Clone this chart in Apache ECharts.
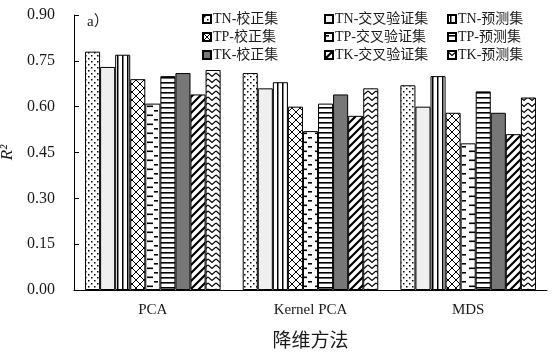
<!DOCTYPE html>
<html><head><meta charset="utf-8">
<script src="https://cdn.jsdelivr.net/npm/echarts@6/dist/echarts.min.js"></script>
<style>html,body{margin:0;padding:0;background:#fff}#c{width:553px;height:356px}</style>
</head><body><div id="c"></div>
<script>
const categories = ['PCA', 'Kernel PCA', 'MDS'];
const yTicks = ['0.00','0.15','0.30','0.45','0.60','0.75','0.90'];
const seriesNames = ['TN-校正集','TN-交叉验证集','TN-预测集','TP-校正集','TP-交叉验证集','TP-预测集','TK-校正集','TK-交叉验证集','TK-预测集'];
const tnCal  = [0.78, 0.71, 0.67];
const tnCv   = [0.73, 0.66, 0.60];
const tnPred = [0.77, 0.68, 0.70];
const tpCal  = [0.69, 0.60, 0.58];
const tpCv   = [0.61, 0.52, 0.48];
const tpPred = [0.70, 0.61, 0.65];
const tkCal  = [0.71, 0.64, 0.58];
const tkCv   = [0.64, 0.57, 0.51];
const tkPred = [0.72, 0.66, 0.63];
const seriesData = [tnCal, tnCv, tnPred, tpCal, tpCv, tpPred, tkCal, tkCv, tkPred];

function pat(w, h, draw) {
  const c = document.createElement('canvas');
  c.width = w; c.height = h;
  const g = c.getContext('2d');
  g.fillStyle = '#fff'; g.fillRect(0, 0, w, h);
  g.fillStyle = '#000'; g.strokeStyle = '#000';
  draw(g);
  return { image: c, repeat: 'repeat' };
}
const fills = [
  pat(6, 6, g => { g.fillRect(1, 1, 1.5, 1.5); g.fillRect(4, 4, 1.5, 1.5); }),
  '#efefef',
  pat(5, 5, g => { g.fillRect(2, 0, 1.5, 5); }),
  pat(8, 8, g => { g.lineWidth = 1; g.beginPath(); g.moveTo(0,0); g.lineTo(8,8); g.moveTo(8,0); g.lineTo(0,8); g.stroke(); }),
  pat(14, 9, g => { g.fillRect(0, 2, 4, 1.6); g.fillRect(7, 6.5, 6, 1.6); }),
  pat(5, 5, g => { g.fillRect(0, 2, 5, 1.6); }),
  '#777777',
  pat(8, 8, g => { g.lineWidth = 2.2; g.beginPath(); g.moveTo(-4,4); g.lineTo(4,-4); g.moveTo(0,8); g.lineTo(8,0); g.moveTo(4,12); g.lineTo(12,4); g.stroke(); }),
  pat(8, 6, g => { g.lineWidth = 1.2; g.beginPath(); g.moveTo(0,1); g.lineTo(4,4.5); g.lineTo(8,1); g.stroke(); })
];

const chart = echarts.init(document.getElementById('c'), null, { renderer: 'canvas' });
const serif = '"Liberation Serif","Times New Roman","Noto Sans CJK SC",serif';
const txt = '#1a1a1a';
function legendCol(left, names) {
  return {
    orient: 'vertical', left: left, top: 7, itemWidth: 8, itemHeight: 8, itemGap: 4,
    icon: 'rect', data: names, selectedMode: false,
    textStyle: { fontFamily: serif, fontSize: 14, color: txt, padding: [0, 0, 0, -3] }
  };
}
chart.setOption({
  animation: false,
  backgroundColor: '#fff',
  grid: { left: 74, right: 6, top: 15, bottom: 66, containLabel: false, outerBoundsMode: 'none' },
  legend: [
    legendCol(197, [seriesNames[0], seriesNames[3], seriesNames[6]]),
    legendCol(319, [seriesNames[1], seriesNames[4], seriesNames[7]]),
    legendCol(442, [seriesNames[2], seriesNames[5], seriesNames[8]])
  ],
  graphic: [{ type: 'text', left: 87, top: 15, style: { text: 'a）', font: '15px ' + serif, fill: txt } }],
  xAxis: {
    type: 'category', data: categories,
    name: '降维方法', nameLocation: 'middle', nameGap: 43,
    nameTextStyle: { fontFamily: serif, fontSize: 19, color: txt },
    axisLine: { lineStyle: { color: '#000', width: 1 } },
    axisTick: { inside: true, length: 4, lineStyle: { color: '#000' } },
    axisLabel: { fontFamily: serif, fontSize: 15, color: txt, margin: 13 }
  },
  yAxis: {
    type: 'value', min: 0, max: 0.9, interval: 0.15,
    name: 'R²', nameLocation: 'middle', nameGap: 53,
    nameTextStyle: { fontFamily: serif, fontSize: 17, fontStyle: 'italic', color: txt },
    axisLine: { show: true, lineStyle: { color: '#000', width: 1 } },
    axisTick: { show: true, inside: true, length: 5, lineStyle: { color: '#000' } },
    splitLine: { show: false },
    axisLabel: { fontFamily: serif, fontSize: 16, color: txt, margin: 19,
      formatter: v => yTicks[Math.round(v / 0.15)] }
  },
  series: seriesNames.map((n, i) => ({
    name: n, type: 'bar', data: seriesData[i],
    barGap: '0%', barCategoryGap: '14%',
    itemStyle: { color: fills[i], borderColor: '#000', borderWidth: 1 }
  }))
});
</script></body></html>
